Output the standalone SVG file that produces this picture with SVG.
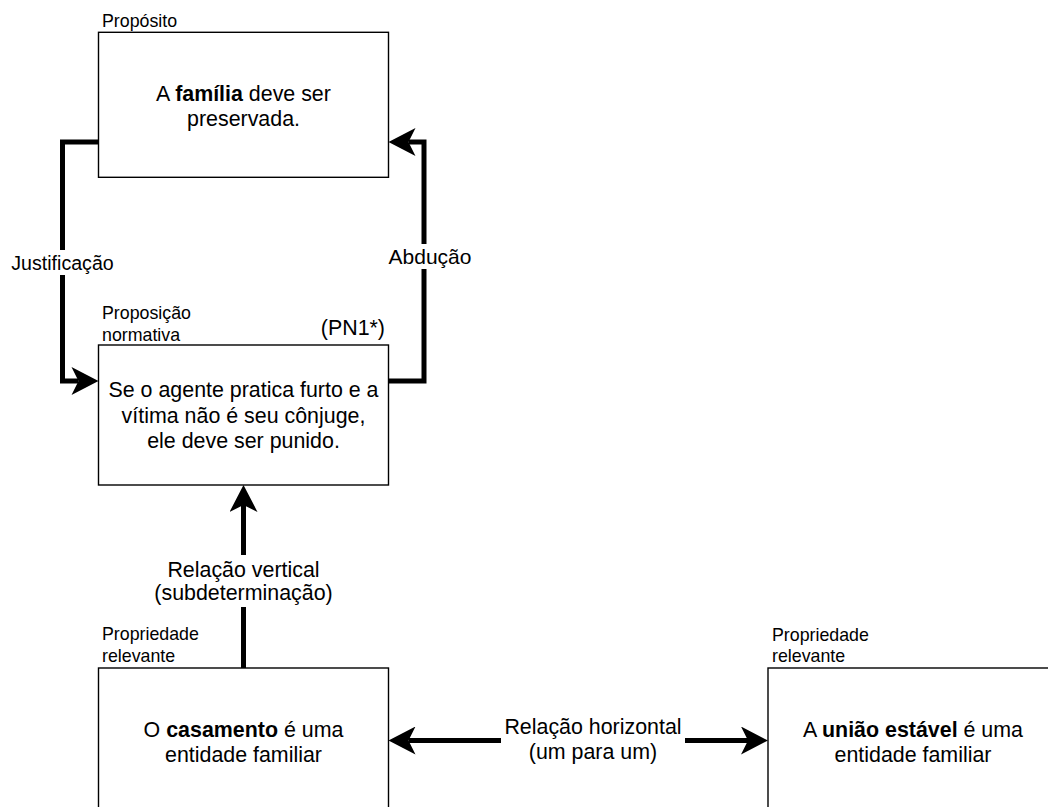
<svg xmlns="http://www.w3.org/2000/svg" width="1048" height="807" viewBox="0 0 1048 807">
  <style>
    text { font-family: "Liberation Sans", Arial, Helvetica, sans-serif; fill: #000; }
    .box { fill: #fff; stroke: #000; stroke-width: 1.4; }
    .main { font-size: 21.4px; text-anchor: middle; }
    .tag { font-size: 17.8px; }
    .elabel { font-size: 21.4px; text-anchor: middle; }
    .conn { fill: none; stroke: #000; stroke-width: 5; stroke-linejoin: miter; }
    .lblbg { fill: #fff; }
    b, .b { font-weight: bold; }
  </style>
  <defs>
    <marker id="arrow" markerUnits="userSpaceOnUse" markerWidth="28" markerHeight="28" viewBox="0 0 27 28" refX="7" refY="14" orient="auto-start-reverse">
      <path d="M27 14 L0 0 L7 14 L0 28 Z" fill="#000"/>
    </marker>
  </defs>

  <!-- connectors -->
  <g id="connectors">
    <path class="conn" d="M98.5 142 H62.5 V381 H78.5" marker-end="url(#arrow)"/>
    <path class="conn" d="M388.5 381 H424 V142 H408.5" marker-end="url(#arrow)"/>
    <path class="conn" d="M243.5 668 V505" marker-end="url(#arrow)"/>
    <path class="conn" d="M408.5 740.5 H748" marker-start="url(#arrow)" marker-end="url(#arrow)"/>

    <!-- edge labels -->
    <rect class="lblbg" x="10" y="250" width="105" height="25"/>
    <text x="62.5" y="270" class="elabel" style="font-size:19.6px">Justificação</text>

    <rect class="lblbg" x="386" y="244" width="88" height="25"/>
    <text x="430" y="264.3" class="elabel" style="font-size:21px">Abdução</text>

    <rect class="lblbg" x="153" y="555" width="181" height="52"/>
    <text x="243.5" y="577" class="elabel">Relação vertical</text>
    <text x="243.5" y="600" class="elabel">(subdeterminação)</text>

    <rect class="lblbg" x="501" y="714" width="184" height="52"/>
    <text x="593" y="733.5" class="elabel">Relação horizontal</text>
    <text x="593" y="759" class="elabel">(um para um)</text>
  </g>

  <!-- Propósito -->
  <g id="proposito">
    <rect class="box" x="98.5" y="32.3" width="290" height="145"/>
    <text x="102" y="26.7" class="tag">Propósito</text>
    <text x="243.5" y="100.5" class="main">A <tspan class="b">família</tspan> deve ser</text>
    <text x="243.5" y="126" class="main">preservada.</text>
  </g>

  <!-- Proposição normativa -->
  <g id="proposicao">
    <rect class="box" x="98.5" y="345" width="290" height="140"/>
    <text x="102" y="319.3" class="tag">Proposição</text>
    <text x="102" y="340.5" class="tag">normativa</text>
    <text x="385" y="335" style="font-size:21.4px;text-anchor:end">(PN1*)</text>
    <text x="243.5" y="397" class="main">Se o agente pratica furto e a</text>
    <text x="243.5" y="422.5" class="main">vítima não é seu cônjuge,</text>
    <text x="243.5" y="448" class="main">ele deve ser punido.</text>
  </g>

  <!-- Propriedade relevante: casamento -->
  <g id="casamento">
    <rect class="box" x="98.5" y="668" width="290" height="145"/>
    <text x="102" y="640" class="tag">Propriedade</text>
    <text x="102" y="661.5" class="tag">relevante</text>
    <text x="243.5" y="736.7" class="main">O <tspan class="b">casamento</tspan> é uma</text>
    <text x="243.5" y="762" class="main">entidade familiar</text>
  </g>

  <!-- Propriedade relevante: união estável -->
  <g id="uniao">
    <rect class="box" x="768" y="668" width="290" height="145"/>
    <text x="772" y="640.7" class="tag">Propriedade</text>
    <text x="772" y="662" class="tag">relevante</text>
    <text x="913" y="737.3" class="main">A <tspan class="b">união estável</tspan> é uma</text>
    <text x="913" y="762" class="main">entidade familiar</text>
  </g>
</svg>
